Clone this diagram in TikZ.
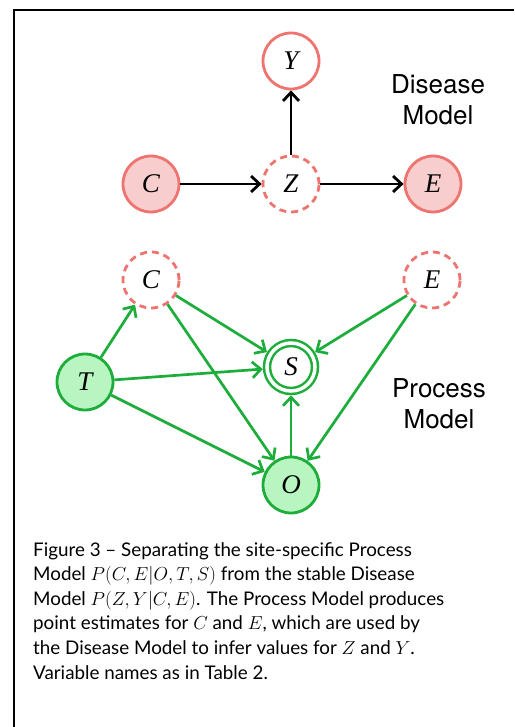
\RequirePackage{fix-cm}
\documentclass[tikz,border=0pt]{standalone}
\usepackage{fontspec}
\newfontfamily\lato{Lato}
\newfontfamily\heros{TeX Gyre Heros}
\newfontfamily\tms{Liberation Serif}
\usetikzlibrary{arrows.meta}
\definecolor{rstroke}{HTML}{EF7470}
\definecolor{rfill}{HTML}{F8CDCD}
\definecolor{gstroke}{HTML}{1DAD3A}
\definecolor{gfill}{HTML}{B8F5C0}
\begin{document}
\begin{tikzpicture}[x=1pt,y=-1pt,
  var/.style={circle, minimum size=56pt, inner sep=0pt, line width=2.8pt,
    font=\fontsize{27}{27}\selectfont\tms\itshape},
  redobs/.style={var, draw=rstroke, fill=rfill},
  redlat/.style={var, draw=rstroke, fill=white, dash pattern=on 7pt off 5pt},
  redplain/.style={var, draw=rstroke, fill=white},
  greenobs/.style={var, draw=gstroke, fill=gfill},
  greensel/.style={var, minimum size=48pt, draw=gstroke, fill=white,
    double=white, double distance=3.5pt, line width=2.5pt, outer sep=4.3pt},
  tipstyle/.style={-{Straight Barb[length=8.5pt,width=16pt]}},
  blackarrow/.style={tipstyle, line width=2.8pt, black},
  greenarrow/.style={tipstyle, line width=2.7pt, gstroke},
  modellabel/.style={align=center, font=\fontsize{26}{31}\selectfont\heros},
  captiontext/.style={align=left, inner sep=0pt, anchor=north west,
    font=\fontsize{18.8}{24.6}\selectfont\lato}
]
\useasboundingbox (0,0) rectangle (514,727);
\fill[white] (0,0) rectangle (514,727);
\draw[line width=2pt] (14,727) -- (14,10) -- (514,10);

% Disease model
\node[redplain] (Y) at (291,61) {Y};
\node[redobs] (C1) at (151,184) {C};
\node[redlat] (Z) at (291,184) {Z};
\node[redobs] (E1) at (433,184) {E};
\draw[blackarrow] (C1) -- (Z);
\draw[blackarrow] (Z) -- (E1);
\draw[blackarrow] (Z) -- (Y);
\node[modellabel] (dm) at (438,100) {Disease\\Model};

% Process model
\node[redlat] (C2) at (151,280) {C};
\node[redlat] (E2) at (432,280) {E};
\node[greenobs] (T) at (85,382) {T};
\node[greensel] (S) at (291,367) {S};
\node[greenobs] (O) at (291,485) {O};
\draw[greenarrow] (T) -- (C2);
\draw[greenarrow] (T) -- (S);
\draw[greenarrow] (T) -- (O);
\draw[greenarrow] (C2) -- (S);
\draw[greenarrow] (C2) -- (O);
\draw[greenarrow] (E2) -- (S);
\draw[greenarrow] (E2) -- (O);
\draw[greenarrow] (O) -- (S);
\node[modellabel] (pm) at (439,404) {Process\\Model};

% Caption
\node[captiontext] (cap) at (33,542) {Figure 3 – Separating the site-specific Process\\
Model $P(C,E|O,T,S)$ from the stable Disease\\
Model $P(Z,Y|C,E)$. The Process Model produces\\
point estimates for $C$ and $E$, which are used by\\
the Disease Model to infer values for $Z$ and $Y$.\\
Variable names as in Table 2.};
\end{tikzpicture}
\end{document}
